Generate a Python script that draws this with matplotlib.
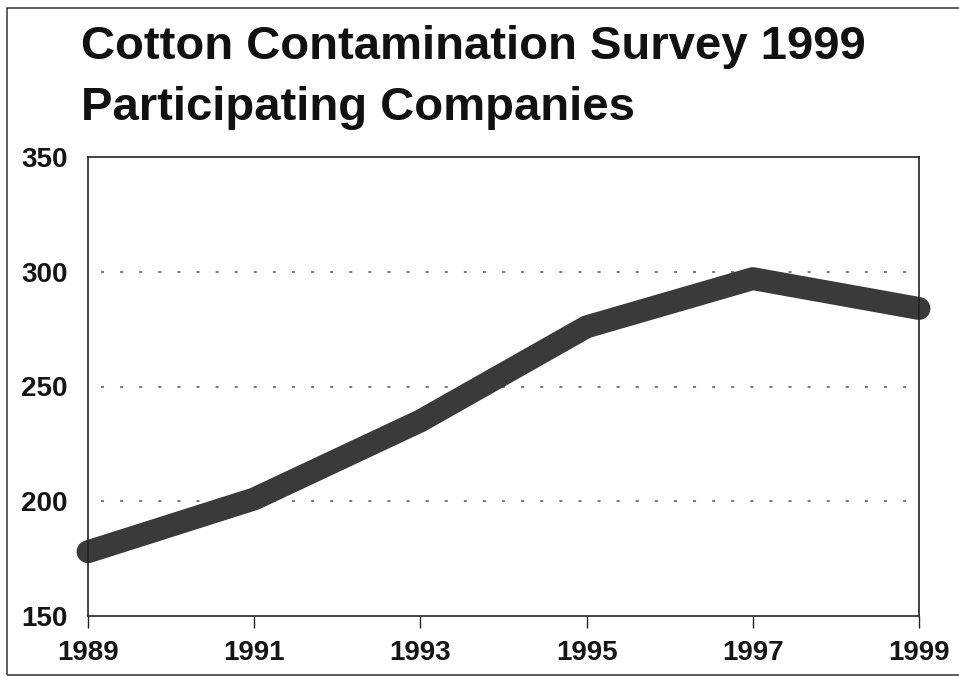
import matplotlib
matplotlib.use("Agg")
import matplotlib.pyplot as plt
from matplotlib.patches import Rectangle

plt.rcParams['font.family'] = ['Liberation Sans', 'DejaVu Sans']

# Survey data
years = [1989, 1991, 1993, 1995, 1997, 1999]
companies = [178, 201, 235, 276, 297, 284]
y_ticks = [150, 200, 250, 300, 350]
grid_levels = [200, 250, 300]
x_ticks = [1989, 1991, 1993, 1995, 1997, 1999]
title_lines = ["Cotton Contamination Survey 1999", "Participating Companies"]

W, H, DPI = 959, 677, 100
fig = plt.figure(figsize=(W / DPI, H / DPI), dpi=DPI)
fig.patch.set_facecolor('white')

# outer frame
fig.add_artist(Rectangle((6.5 / W, 2 / H), 1.2, 1 - 10 / H,
                         transform=fig.transFigure, fill=False,
                         edgecolor='#333333', linewidth=1.1))

left, right, bottom, top = 88, 919, 616, 157
ax = fig.add_axes([left / W, 1 - bottom / H, (right - left) / W, (bottom - top) / H])

# dotted reference lines
for level in grid_levels:
    ax.axhline(level, color='#555555', linewidth=1.1,
               linestyle=(4, (2, 10.5)), zorder=1)

ax.plot(years, companies, color='#3a3a3a', linewidth=16.5,
        solid_capstyle='round', solid_joinstyle='round', clip_on=False, zorder=2)

ax.set_xlim(1989, 1999)
ax.set_ylim(150, 350)
ax.set_xticks(x_ticks)
ax.set_yticks(y_ticks)
ax.set_xticklabels([str(v) for v in x_ticks])
ax.set_yticklabels([str(v) for v in y_ticks])

for sp in ax.spines.values():
    sp.set_linewidth(1.2)
    sp.set_color('#222222')
    sp.set_zorder(3)

ax.tick_params(axis='x', direction='out', length=8.6, width=1.0, color='#222222',
               pad=9, labelsize=20, labelcolor='#151515')
ax.tick_params(axis='y', length=0, pad=14.5, labelsize=20, labelcolor='#151515')
for lab in ax.get_xticklabels() + ax.get_yticklabels():
    lab.set_fontweight('bold')

fig.text(81 / W, 1 - 59 / H, title_lines[0], fontsize=34, fontweight='bold',
         color='#111111', ha='left', va='baseline')
fig.text(81 / W, 1 - 120 / H, title_lines[1], fontsize=34, fontweight='bold',
         color='#111111', ha='left', va='baseline')

fig.savefig('out.png', dpi=DPI, facecolor='white')
